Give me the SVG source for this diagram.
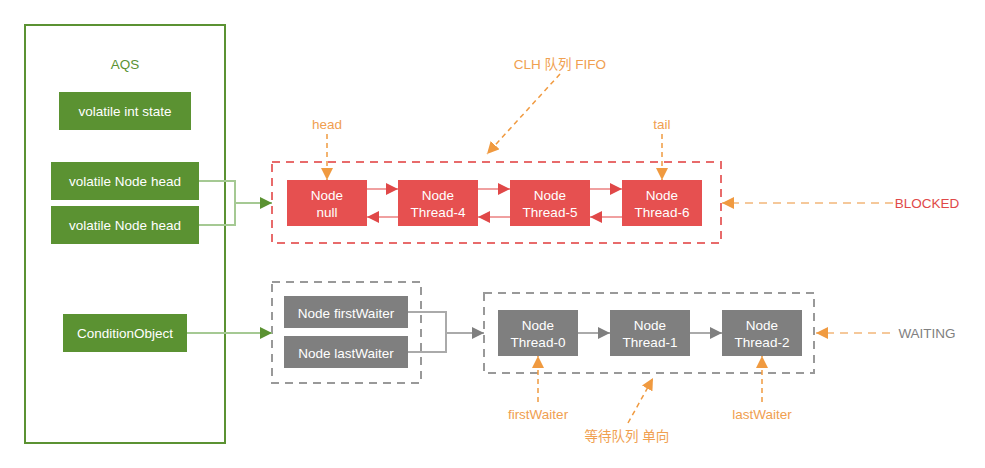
<svg xmlns="http://www.w3.org/2000/svg" width="985" height="468" viewBox="0 0 985 468">
<defs>
<style>
text{font-family:"Liberation Sans","Noto Sans CJK SC",sans-serif;font-size:13.5px;text-anchor:middle;dominant-baseline:central}
.g{fill:#5b9232}
.r{fill:#e65050}
.k{fill:#7f7f7f}
.w{fill:#fff}
.o{fill:#f0a050}
</style>
<marker id="ag" viewBox="0 0 10 10" refX="10" refY="5" markerWidth="12" markerHeight="12" markerUnits="userSpaceOnUse" orient="auto"><path d="M0,0L10,5L0,10z" fill="#5b9232"/></marker>
<marker id="ar" viewBox="0 0 10 10" refX="10" refY="5" markerWidth="12" markerHeight="12" markerUnits="userSpaceOnUse" orient="auto"><path d="M0,0L10,5L0,10z" fill="#e04848"/></marker>
<marker id="ak" viewBox="0 0 10 10" refX="10" refY="5" markerWidth="12" markerHeight="12" markerUnits="userSpaceOnUse" orient="auto"><path d="M0,0L10,5L0,10z" fill="#7f7f7f"/></marker>
<marker id="ao" viewBox="0 0 10 10" refX="10" refY="5" markerWidth="12" markerHeight="12" markerUnits="userSpaceOnUse" orient="auto"><path d="M0,0L10,5L0,10z" fill="#f09a40"/></marker>
</defs>
<rect width="985" height="468" fill="#fff"/>

<g id="aqs">
<rect x="25" y="25" width="200" height="418" fill="none" stroke="#5b9232" stroke-width="2"/>
<text x="125" y="64" class="g" font-size="14.5">AQS</text>
</g>
<g id="state"><rect x="59" y="92" width="132" height="38" class="g"/><text x="125" y="111" class="w">volatile int state</text></g>
<g id="head1"><rect x="51" y="162" width="148" height="38" class="g"/><text x="125" y="181" class="w">volatile Node head</text></g>
<g id="head2"><rect x="51" y="206" width="148" height="38" class="g"/><text x="125" y="225" class="w">volatile Node head</text></g>
<g id="cond"><rect x="63" y="314" width="124" height="38" class="g"/><text x="125" y="333" class="w">ConditionObject</text></g>

<g id="clh">
<rect x="272" y="162" width="449" height="81" fill="none" stroke="#e86b6b" stroke-width="2" stroke-dasharray="8,6"/>
</g>
<g id="n-null"><rect x="287" y="180" width="80" height="46" class="r"/><text x="327" y="195" class="w">Node</text><text x="327" y="212" class="w">null</text></g>
<g id="n-t4"><rect x="398" y="180" width="80" height="46" class="r"/><text x="438" y="195" class="w">Node</text><text x="438" y="212" class="w">Thread-4</text></g>
<g id="n-t5"><rect x="510" y="180" width="80" height="46" class="r"/><text x="550" y="195" class="w">Node</text><text x="550" y="212" class="w">Thread-5</text></g>
<g id="n-t6"><rect x="622" y="180" width="80" height="46" class="r"/><text x="662" y="195" class="w">Node</text><text x="662" y="212" class="w">Thread-6</text></g>

<g id="cq">
<rect x="272" y="282" width="149" height="101" fill="none" stroke="#999" stroke-width="2" stroke-dasharray="8,6"/>
</g>
<g id="fw"><rect x="284" y="296" width="124" height="32" class="k"/><text x="346" y="313" class="w">Node firstWaiter</text></g>
<g id="lw"><rect x="284" y="336" width="124" height="32" class="k"/><text x="346" y="353" class="w">Node lastWaiter</text></g>

<g id="wq">
<rect x="484" y="293" width="330" height="80" fill="none" stroke="#999" stroke-width="2" stroke-dasharray="8,6"/>
</g>
<g id="n-t0"><rect x="498" y="310" width="80" height="46" class="k"/><text x="538" y="325" class="w">Node</text><text x="538" y="342" class="w">Thread-0</text></g>
<g id="n-t1"><rect x="610" y="310" width="80" height="46" class="k"/><text x="650" y="325" class="w">Node</text><text x="650" y="342" class="w">Thread-1</text></g>
<g id="n-t2"><rect x="722" y="310" width="80" height="46" class="k"/><text x="762" y="325" class="w">Node</text><text x="762" y="342" class="w">Thread-2</text></g>

<g id="labels">
<text x="560" y="64" class="o">CLH 队列 FIFO</text>
<text x="327" y="124" class="o">head</text>
<text x="662" y="124" class="o">tail</text>
<text x="927" y="203" fill="#e04848">BLOCKED</text>
<text x="927" y="333" fill="#808080">WAITING</text>
<text x="538" y="414" class="o">firstWaiter</text>
<text x="762" y="414" class="o">lastWaiter</text>
<text x="627" y="436" class="o">等待队列 单向</text>
</g>

<g id="connectors" fill="none">
<path d="M199,181H235V225H199M235,203H272" stroke="#a5c993" stroke-width="2" marker-end="url(#ag)"/>
<path d="M187,333H272" stroke="#a5c993" stroke-width="2" marker-end="url(#ag)"/>
<path d="M367,189H398" stroke="#f0a0a0" stroke-width="2" marker-end="url(#ar)"/>
<path d="M478,189H510" stroke="#f0a0a0" stroke-width="2" marker-end="url(#ar)"/>
<path d="M590,189H622" stroke="#f0a0a0" stroke-width="2" marker-end="url(#ar)"/>
<path d="M398,217H367" stroke="#f0a0a0" stroke-width="2" marker-end="url(#ar)"/>
<path d="M510,217H478" stroke="#f0a0a0" stroke-width="2" marker-end="url(#ar)"/>
<path d="M622,217H590" stroke="#f0a0a0" stroke-width="2" marker-end="url(#ar)"/>
<path d="M408,312H446V352H408M446,333H484" stroke="#aaa" stroke-width="2" marker-end="url(#ak)"/>
<path d="M578,333H610" stroke="#aaa" stroke-width="2" marker-end="url(#ak)"/>
<path d="M690,333H722" stroke="#aaa" stroke-width="2" marker-end="url(#ak)"/>
<path d="M327,134V180" stroke="#f09a40" stroke-width="1.5" stroke-dasharray="5,4" marker-end="url(#ao)"/>
<path d="M662,134V180" stroke="#f09a40" stroke-width="1.5" stroke-dasharray="5,4" marker-end="url(#ao)"/>
<path d="M560,74L487,154" stroke="#f09a40" stroke-width="1.5" stroke-dasharray="5,4" marker-end="url(#ao)"/>
<path d="M893,203H722" stroke="#f5c89a" stroke-width="2" stroke-dasharray="8,6" marker-end="url(#ao)"/>
<path d="M890,333H816" stroke="#f5c89a" stroke-width="2" stroke-dasharray="8,6" marker-end="url(#ao)"/>
<path d="M538,402V356" stroke="#f09a40" stroke-width="1.5" stroke-dasharray="5,4" marker-end="url(#ao)"/>
<path d="M762,402V356" stroke="#f09a40" stroke-width="1.5" stroke-dasharray="5,4" marker-end="url(#ao)"/>
<path d="M628,423L653,378" stroke="#f09a40" stroke-width="1.5" stroke-dasharray="5,4" marker-end="url(#ao)"/>
</g>
</svg>
